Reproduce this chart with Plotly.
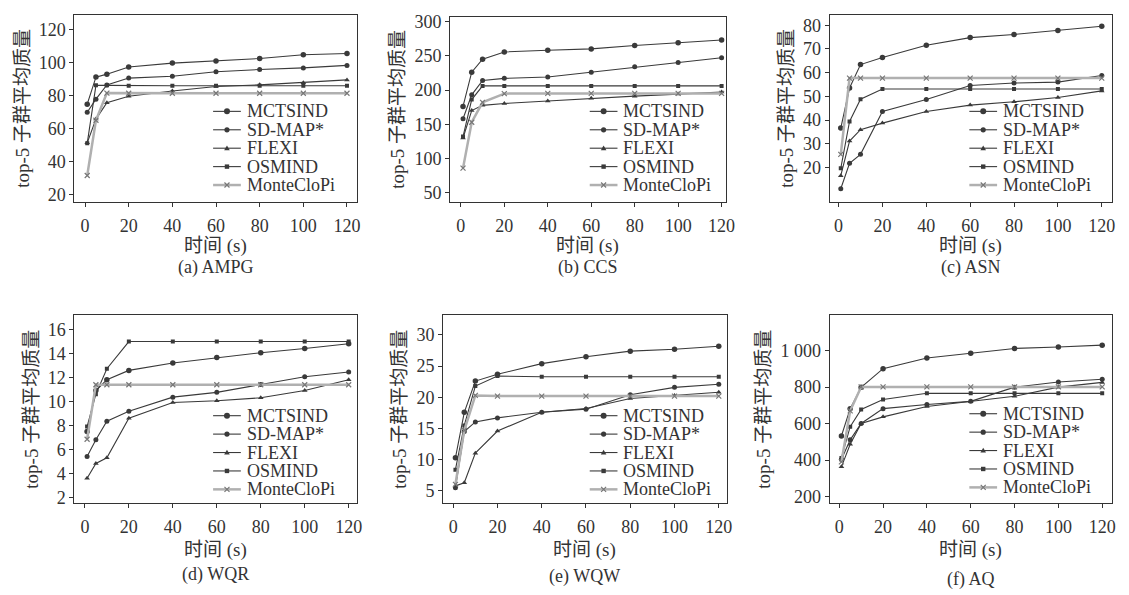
import plotly.graph_objects as go

# ---------------- data ----------------
TIME = [1, 5, 10, 20, 40, 60, 80, 100, 120]
METHODS = ["MCTSIND", "SD-MAP*", "FLEXI", "OSMIND", "MonteCloPi"]

AMPG = {
    "MCTSIND":    [74.8, 91.2, 93.0, 97.3, 99.7, 101.0, 102.5, 104.8, 105.5],
    "SD-MAP*":    [69.9, 77.8, 86.4, 90.6, 91.7, 94.5, 95.8, 96.8, 98.3],
    "FLEXI":      [51.3, 65.7, 75.6, 79.6, 82.8, 85.5, 86.5, 87.8, 89.5],
    "OSMIND":     [51.0, 86.2, 86.2, 86.0, 86.0, 86.0, 86.0, 86.0, 86.0],
    "MonteCloPi": [31.5, 65.0, 81.5, 81.4, 81.4, 81.4, 81.4, 81.4, 81.4],
}
CCS = {
    "MCTSIND":    [176, 226, 245, 255.5, 258, 260, 265, 269, 273],
    "SD-MAP*":    [158, 193, 214, 217, 219, 226, 234, 240, 247],
    "FLEXI":      [130, 170, 177.6, 180.3, 184, 188, 191, 194, 197],
    "OSMIND":     [132, 186, 206, 206, 206, 206, 206, 206, 206],
    "MonteCloPi": [86, 153, 182, 194.7, 195, 195, 195, 195, 195],
}
ASN = {
    "MCTSIND":    [36.6, 53.5, 63.4, 66.4, 71.6, 74.8, 76.1, 77.8, 79.6],
    "SD-MAP*":    [11.0, 21.7, 25.5, 43.6, 48.7, 54.6, 55.6, 56.0, 58.8],
    "FLEXI":      [16.5, 31.1, 35.9, 38.7, 43.6, 46.3, 47.7, 49.5, 52.3],
    "OSMIND":     [19.6, 39.4, 48.8, 53.1, 53.1, 53.1, 53.1, 53.1, 53.1],
    "MonteCloPi": [25.5, 57.7, 57.7, 57.7, 57.7, 57.7, 57.7, 57.7, 57.7],
}
WQR = {
    "MCTSIND":    [7.5, 10.9, 11.8, 12.58, 13.2, 13.65, 14.05, 14.4, 14.8],
    "SD-MAP*":    [5.4, 6.8, 8.35, 9.17, 10.35, 10.75, 11.4, 12.05, 12.45],
    "FLEXI":      [3.6, 4.83, 5.3, 8.6, 9.9, 10.05, 10.3, 10.9, 11.8],
    "OSMIND":     [7.9, 10.6, 12.72, 14.98, 14.98, 14.98, 14.98, 14.98, 14.98],
    "MonteCloPi": [6.85, 11.38, 11.38, 11.38, 11.38, 11.38, 11.38, 11.38, 11.38],
}
WQW = {
    "MCTSIND":    [10.3, 17.6, 22.6, 23.7, 25.4, 26.5, 27.4, 27.7, 28.2],
    "SD-MAP*":    [5.5, 14.5, 16.05, 16.7, 17.6, 18.1, 20.4, 21.6, 22.1],
    "FLEXI":      [5.8, 6.3, 11.05, 14.6, 17.6, 18.2, 19.8, 20.3, 20.8],
    "OSMIND":     [8.4, 15.5, 21.8, 23.4, 23.3, 23.3, 23.3, 23.3, 23.3],
    "MonteCloPi": [6.05, 14.7, 20.3, 20.2, 20.2, 20.2, 20.2, 20.2, 20.2],
}
AQ = {
    "MCTSIND":    [532, 682, 799, 901, 960, 985, 1012, 1020, 1030],
    "SD-MAP*":    [403, 511, 601, 682, 705, 722, 800, 828, 843],
    "FLEXI":      [363, 487, 601, 637, 694, 720, 750, 800, 826],
    "OSMIND":     [412, 583, 678, 732, 766, 766, 766, 766, 766],
    "MonteCloPi": [390, 670, 801, 801, 801, 801, 801, 801, 801],
}

CAPTIONS = ["(a) AMPG", "(b) CCS", "(c) ASN", "(d) WQR", "(e) WQW", "(f) AQ"]
DATASETS = [AMPG, CCS, ASN, WQR, WQW, AQ]
X_TICKS = [0, 20, 40, 60, 80, 100, 120]
Y_TICKS = [
    [20, 40, 60, 80, 100, 120],
    [50, 100, 150, 200, 250, 300],
    [20, 30, 40, 50, 60, 70, 80],
    [2, 4, 6, 8, 10, 12, 14, 16],
    [5, 10, 15, 20, 25, 30],
    [200, 400, 600, 800, 1000],
]
X_TITLE = "时间 (s)"
Y_TITLE = "top-5 子群平均质量"

# ---------------- layout helpers ----------------
W, H = 1129, 595
FONT = "Liberation Serif, Noto Sans CJK SC, serif"
INK = "#333333"

# plot-area boxes in pixels: (left, right, top, bottom)
BOXES = [(75, 360, 10, 200), (454, 732, 12, 200), (837, 1122, 10, 200),
         (75, 360, 315, 506), (447, 733, 315, 506), (837, 1122, 315, 506)]
XRANGES = [(-4.9, 124.5), (-5.0, 121.8), (-4.1, 124.7),
           (-4.8, 123.7), (-4.6, 123.5), (-4.4, 124.5)]
YRANGES = [(15.4, 129.0), (36.6, 306.8), (5.4, 84.4),
           (1.51, 17.17), (3.0, 33.16), (163, 1194)]
# legend: left edge of sample line (px), centre of first row (px)
LEG_X = [215, 595, 978, 215, 595, 978]
LEG_Y = [108, 108, 108, 417, 417, 415]
LEG_STEP = 18.7
CAPTION_Y = [267, 267, 267, 578, 580, 583]
XTITLE_Y = [245, 245, 245, 553, 553, 553]

LINE_DARK = "#3a3a3a"
LINE_GREY = "#b0b0b0"
STYLE = {
    "MCTSIND":    dict(line=dict(color=LINE_DARK, width=1.1), marker=dict(symbol="circle", size=5.5, color=LINE_DARK)),
    "SD-MAP*":    dict(line=dict(color=LINE_DARK, width=1.1), marker=dict(symbol="circle", size=5, color=LINE_DARK)),
    "FLEXI":      dict(line=dict(color=LINE_DARK, width=1.1), marker=dict(symbol="triangle-up", size=5, color=LINE_DARK)),
    "OSMIND":     dict(line=dict(color=LINE_DARK, width=1.1), marker=dict(symbol="square", size=4, color=LINE_DARK)),
    "MonteCloPi": dict(line=dict(color=LINE_GREY, width=2.5), marker=dict(symbol="x-thin", size=5, color="#777777",
                                                                          line=dict(width=1.2, color="#777777"))),
}


def legend_marker(method, cx, cy):
    """Shape for a legend sample marker, sized in pixels around (cx, cy) paper."""
    base = dict(xref="paper", yref="paper", xsizemode="pixel", ysizemode="pixel",
                xanchor=cx, yanchor=cy, layer="above")
    if method in ("MCTSIND", "SD-MAP*"):
        r = 3 if method == "MCTSIND" else 2.6
        return dict(type="circle", x0=-r, x1=r, y0=-r, y1=r,
                    fillcolor=LINE_DARK, line=dict(width=0), **base)
    if method == "FLEXI":
        return dict(type="path", path="M-2.8,-2 L2.8,-2 L0,2.8 Z",
                    fillcolor=LINE_DARK, line=dict(width=0), **base)
    if method == "OSMIND":
        return dict(type="rect", x0=-2.2, x1=2.2, y0=-2.2, y1=2.2,
                    fillcolor=LINE_DARK, line=dict(width=0), **base)
    return dict(type="path", path="M-2.5,-2.5 L2.5,2.5 M-2.5,2.5 L2.5,-2.5",
                line=dict(width=1.2, color="#777777"), **base)


fig = go.Figure()
annotations = []
shapes = []
for i, (data, cap) in enumerate(zip(DATASETS, CAPTIONS)):
    k = "" if i == 0 else str(i + 1)
    for m in METHODS:
        fig.add_trace(go.Scatter(
            x=TIME, y=data[m], name=m, mode="lines+markers",
            xaxis="x" + k, yaxis="y" + k, showlegend=False,
            **STYLE[m]))
    l, r, t, b = BOXES[i]
    common = dict(showline=True, linecolor=INK, linewidth=1, mirror=True,
                  ticks="outside", ticklen=4, tickcolor=INK, showgrid=False,
                  zeroline=False, tickfont=dict(family=FONT, size=18, color=INK))
    fig.layout["xaxis" + k] = dict(
        domain=[l / W, r / W], range=list(XRANGES[i]), anchor="y" + k,
        tickmode="array", tickvals=X_TICKS, ticklabelstandoff=3, **common)
    yax = dict(
        domain=[1 - b / H, 1 - t / H], range=list(YRANGES[i]), anchor="x" + k,
        tickmode="array", tickvals=Y_TICKS[i],
        title=dict(text=Y_TITLE, font=dict(family=FONT, size=19, color=INK), standoff=4),
        **common)
    if i == 5:
        yax["separatethousands"] = True
        yax["tickformat"] = ","
    fig.layout["yaxis" + k] = yax

    # x-axis title and panel caption
    annotations.append(dict(
        text=X_TITLE, xref="x" + k + " domain", x=0.5, yref="paper", y=1 - XTITLE_Y[i] / H,
        xanchor="center", yanchor="middle", showarrow=False,
        font=dict(family=FONT, size=19, color=INK)))
    annotations.append(dict(
        text=cap, xref="x" + k + " domain", x=0.5, yref="paper", y=1 - CAPTION_Y[i] / H,
        xanchor="center", yanchor="middle", showarrow=False,
        font=dict(family=FONT, size=18, color=INK)))

    # legend (sample line + marker + label)
    for j, m in enumerate(METHODS):
        py = LEG_Y[i] + j * LEG_STEP
        x0, x1 = LEG_X[i], LEG_X[i] + 28
        lw = STYLE[m]["line"]["width"]
        shapes.append(dict(type="line", xref="paper", yref="paper",
                           x0=x0 / W, x1=x1 / W, y0=1 - py / H, y1=1 - py / H,
                           line=dict(color=STYLE[m]["line"]["color"], width=lw), layer="above"))
        shapes.append(legend_marker(m, (x0 + 14) / W, 1 - py / H))
        annotations.append(dict(
            text=m, xref="paper", yref="paper", x=(x1 + 4) / W, y=1 - py / H,
            xanchor="left", yanchor="middle", showarrow=False,
            font=dict(family=FONT, size=18, color=INK)))

fig.update_layout(
    width=W, height=H, margin=dict(l=0, r=0, t=0, b=0),
    paper_bgcolor="white", plot_bgcolor="white",
    separators=". ", showlegend=False,
    font=dict(family=FONT, color=INK),
    annotations=annotations, shapes=shapes,
)

fig.write_html("out.html", config={"displayModeBar": False},
               post_script="document.body.style.margin='0px';")
